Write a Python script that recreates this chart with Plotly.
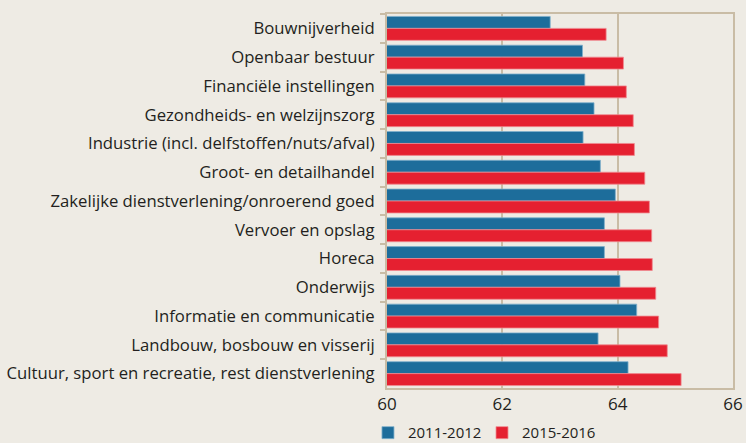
import plotly.graph_objects as go

categories = [
    "Bouwnijverheid",
    "Openbaar bestuur",
    "Financiële instellingen",
    "Gezondheids- en welzijnszorg",
    "Industrie (incl. delfstoffen/nuts/afval)",
    "Groot- en detailhandel",
    "Zakelijke dienstverlening/onroerend goed",
    "Vervoer en opslag",
    "Horeca",
    "Onderwijs",
    "Informatie en communicatie",
    "Landbouw, bosbouw en visserij",
    "Cultuur, sport en recreatie, rest dienstverlening",
]
values_2011_2012 = [62.83, 63.39, 63.43, 63.59, 63.40, 63.70, 63.96, 63.77, 63.77, 64.04, 64.33, 63.66, 64.18]
values_2015_2016 = [63.80, 64.10, 64.15, 64.27, 64.29, 64.47, 64.55, 64.59, 64.60, 64.66, 64.71, 64.86, 65.10]
x_ticks = [60, 62, 64, 66]

BLUE = "#1d6d9b"
RED = "#e52030"
BG = "#eeebe4"
FRAME = "#c9bca5"
TEXT = "#231f20"
FONT = "'Open Sans', sans-serif"

fig = go.Figure()
fig.add_trace(go.Bar(
    y=categories, x=values_2011_2012, orientation="h", name="2011-2012",
    marker=dict(color=BLUE, line=dict(color="#7fb0cc", width=0.8)),
    legend="legend",
))
fig.add_trace(go.Bar(
    y=categories, x=values_2015_2016, orientation="h", name="2015-2016",
    marker=dict(color=RED, line=dict(color="#f08a90", width=0.8)),
    legend="legend2",
))

legend_common = dict(
    orientation="h", xanchor="left", y=-0.12, yanchor="middle",
    font=dict(size=15, color=TEXT), bgcolor="rgba(0,0,0,0)", itemwidth=30,
)

fig.update_layout(
    width=746, height=443,
    paper_bgcolor=BG, plot_bgcolor=BG,
    margin=dict(l=387, r=13, t=14, b=55, autoexpand=False),
    barmode="group", bargap=0.17, bargroupgap=0,
    font=dict(family=FONT, size=16.7, color=TEXT),
    hovermode=False,
    showlegend=True,
    legend=dict(x=-0.055, **legend_common),
    legend2=dict(x=0.2746, **legend_common),
)
fig.update_xaxes(
    range=[60, 66], tickvals=x_ticks, ticktext=[str(v) for v in x_ticks],
    showgrid=True, gridcolor=FRAME, gridwidth=1.5,
    showline=True, linecolor=FRAME, linewidth=2, mirror=True,
    ticks="", zeroline=False, tickfont=dict(size=17), automargin=False,
)
fig.update_yaxes(
    autorange="reversed", showgrid=False,
    showline=True, linecolor=FRAME, linewidth=2, mirror=True,
    ticks="outside", tickson="boundaries", ticklen=5, tickcolor=FRAME, tickwidth=1.5,
    tickfont=dict(size=16.7), ticklabelstandoff=7, automargin=False,
)

fig.write_html("out.html", config={"displayModeBar": False},
               post_script="document.body.style.margin='0';")
